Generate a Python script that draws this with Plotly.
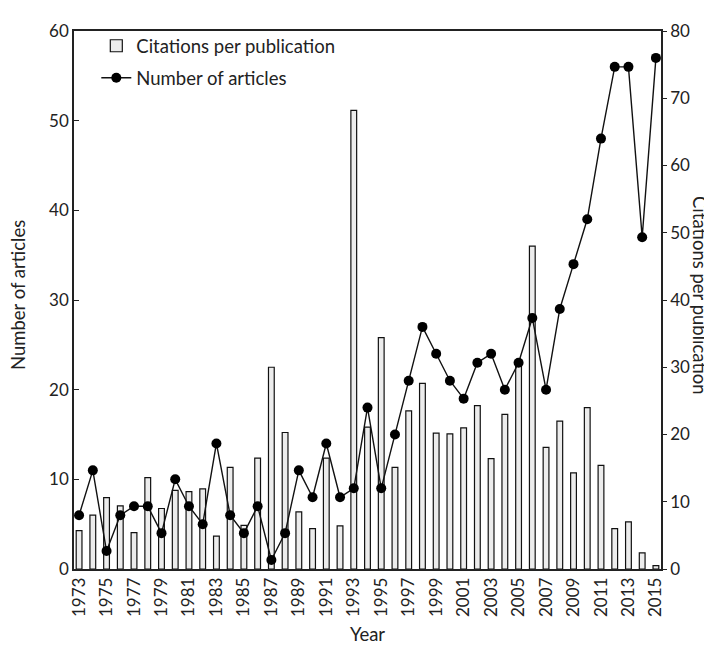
import plotly.graph_objects as go

years = list(range(1973, 2016))
articles = [6, 11, 2, 6, 7, 7, 4, 10, 7, 5, 14, 6, 4, 7, 1, 4, 11, 8, 14, 8,
            9, 18, 9, 15, 21, 27, 24, 21, 19, 23, 24, 20, 23, 28, 20, 29, 34,
            39, 48, 56, 56, 37, 57]
citations = [5.7, 8.0, 10.6, 9.4, 5.4, 13.6, 9.0, 11.7, 11.5, 11.9, 4.9, 15.1,
             6.5, 16.5, 30.0, 20.3, 8.5, 6.0, 16.5, 6.4, 68.2, 21.1, 34.4, 15.1,
             23.5, 27.6, 20.2, 20.1, 21.0, 24.3, 16.4, 23.0, 30.4, 48.0, 18.1,
             22.0, 14.3, 24.0, 15.4, 6.0, 7.0, 2.4, 0.5]
x_ticks = list(range(1973, 2016, 2))

FONT = "Lato"
AX = "#222222"

fig = go.Figure()
fig.add_trace(go.Bar(
    x=years, y=citations, name="Citations per publication", legendgroup="a",
    width=0.42, marker=dict(color="#ececec", line=dict(color="#111111", width=1.2)),
    yaxis="y"))
fig.add_trace(go.Scatter(
    x=years, y=articles, name="Number of articles", mode="lines+markers",
    legendgroup="b",
    line=dict(color="#111111", width=1.4),
    marker=dict(color="#000000", size=10),
    yaxis="y2"))

fig.update_layout(
    width=712, height=646,
    margin=dict(l=66, r=59, t=14, b=84),
    paper_bgcolor="white", plot_bgcolor="white",
    font=dict(family=FONT, size=17, color="#222222"),
    showlegend=True,
    legend=dict(x=0.038, y=1.007, xanchor="left", yanchor="top",
                traceorder="grouped", tracegroupgap=5,
                bgcolor="rgba(0,0,0,0)", font=dict(size=18.5)),
    xaxis=dict(range=[1972.63, 2015.37], tickvals=x_ticks, tickangle=-90,
               showline=True, linecolor=AX, linewidth=1.5, mirror=True,
               ticks="", showgrid=False, zeroline=False,
               title=dict(text="Year", font=dict(size=18.5), standoff=12)),
    yaxis=dict(range=[0, 80], dtick=10, side="right", showgrid=False,
               zeroline=False, showline=True, linecolor=AX, linewidth=1.5,
               ticks="outside", ticklen=4, tickcolor=AX),
    yaxis2=dict(range=[0, 60], dtick=10, side="left", overlaying="y",
                showgrid=False, zeroline=False, showline=True, linecolor=AX,
                linewidth=1.5, ticks="inside", ticklen=5, tickcolor=AX),
    annotations=[
        dict(text="Citations per publication", textangle=90,
             xref="paper", yref="paper", x=1.0, y=0.5, xshift=39, yshift=5,
             xanchor="center", yanchor="middle",
             showarrow=False, font=dict(size=18.5)),
        dict(text="Number of articles", textangle=-90,
             xref="paper", yref="paper", x=0.0, y=0.5, xshift=-56, yshift=5,
             xanchor="center", yanchor="middle",
             showarrow=False, font=dict(size=18.5)),
    ],
)

fig.write_html("out.html")
